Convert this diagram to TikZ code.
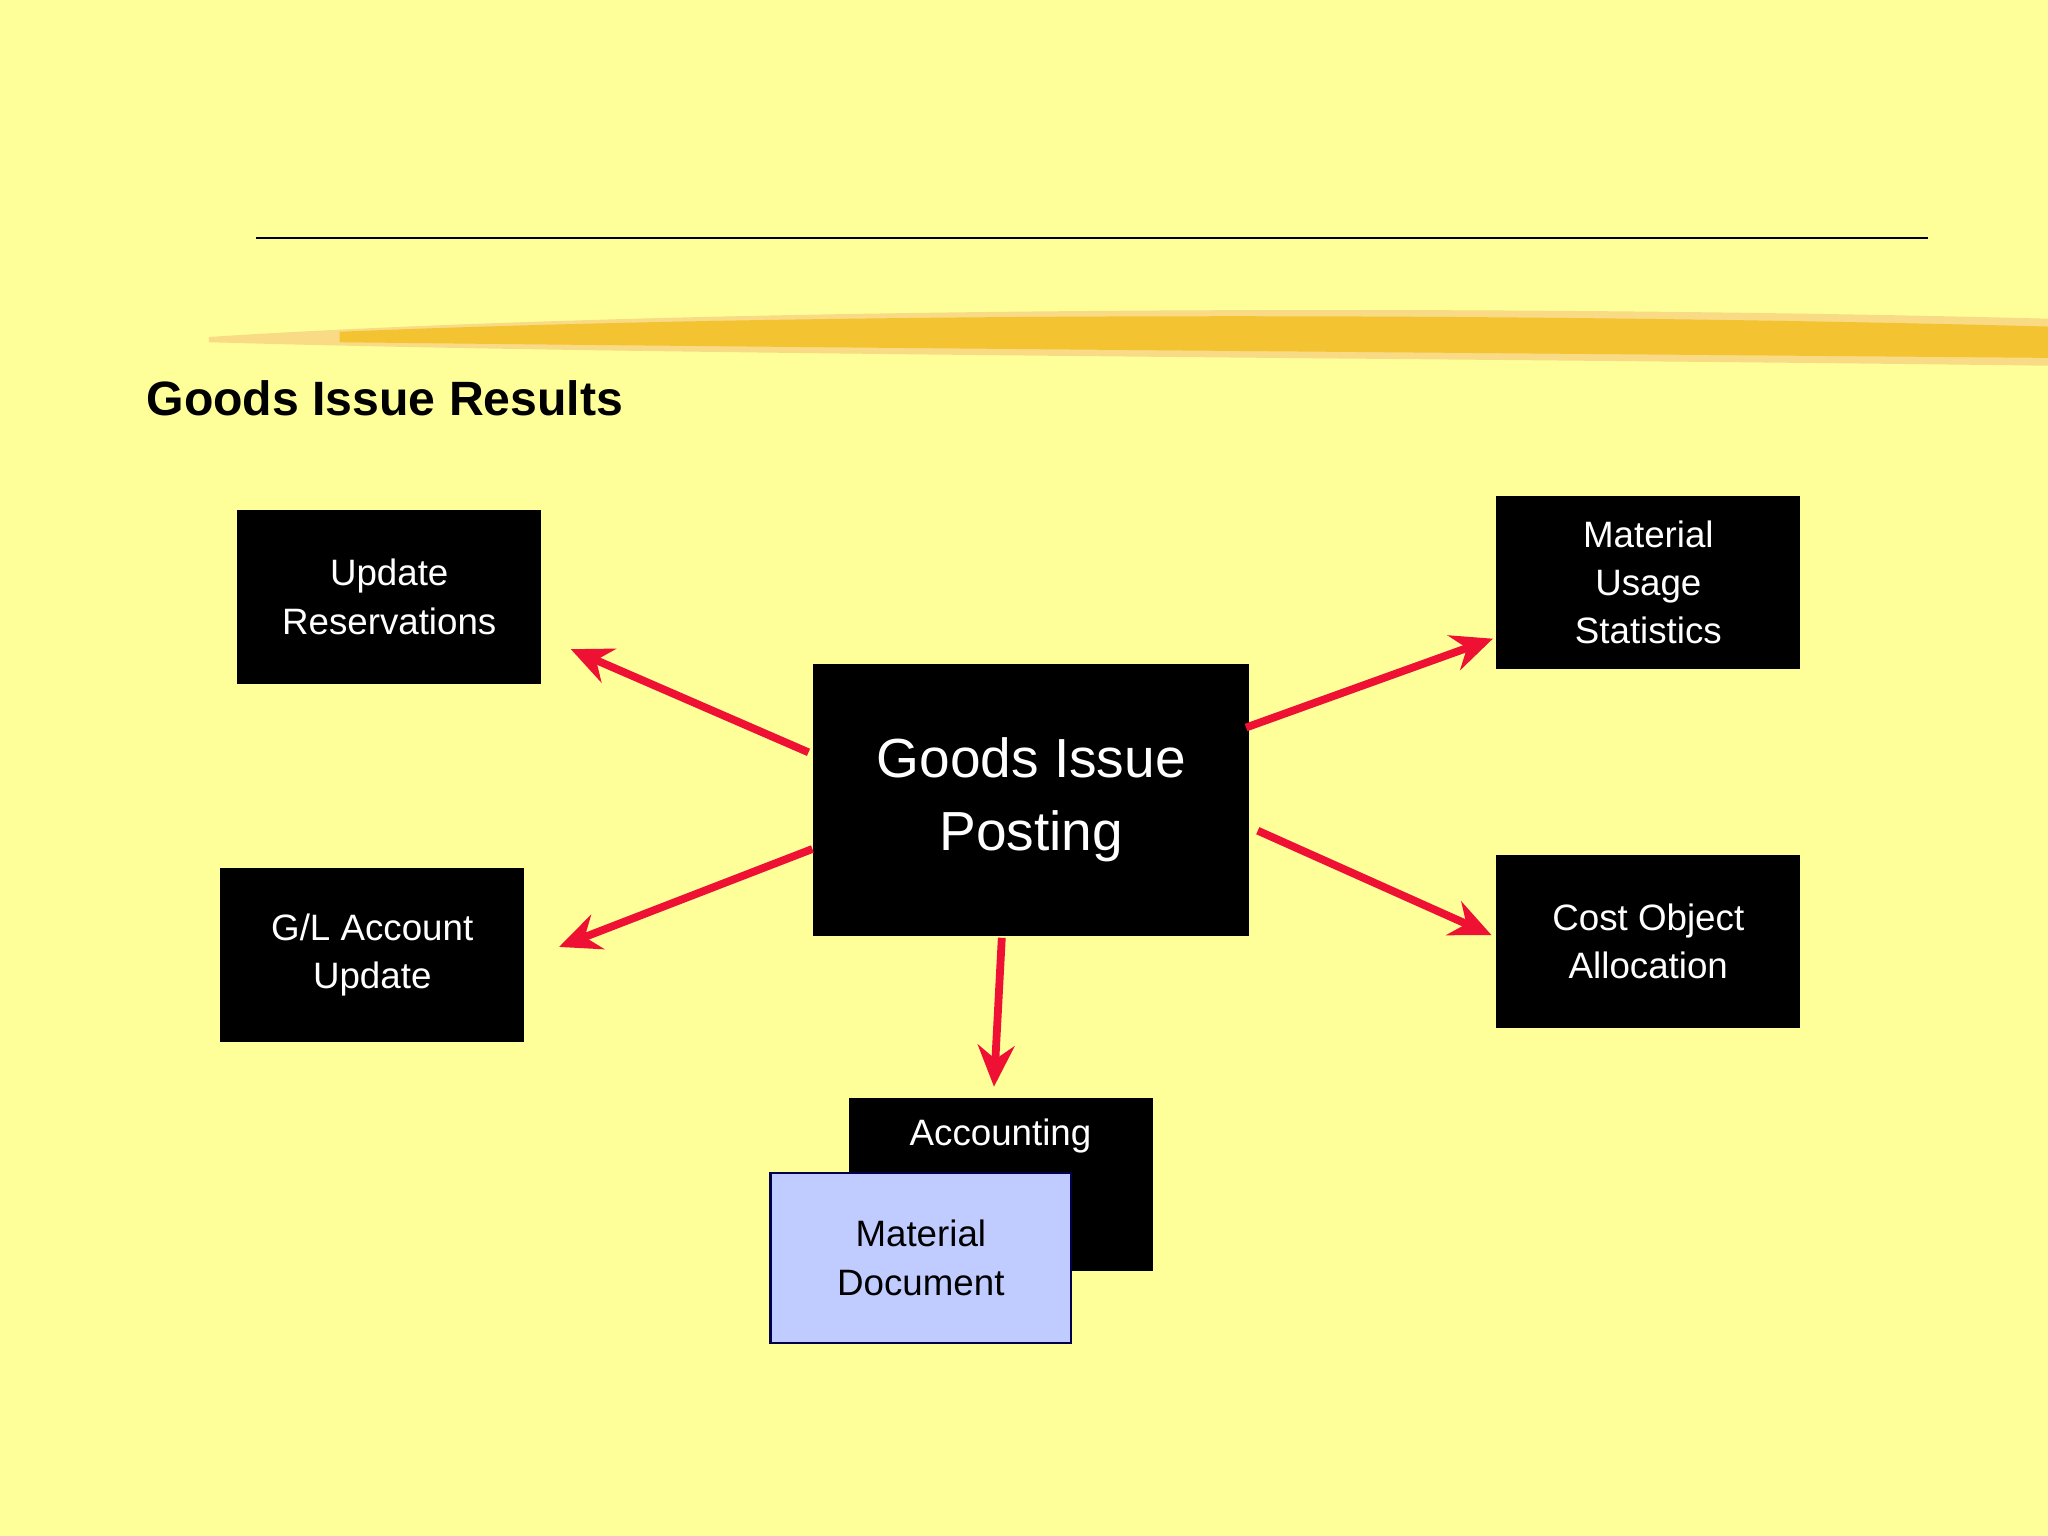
\documentclass[tikz,border=0pt]{standalone}
\usepackage{fontspec}
\setmainfont{Liberation Sans}
\usetikzlibrary{arrows.meta}
\definecolor{bg}{HTML}{FFFF99}
\definecolor{brush}{HTML}{F3C332}
\definecolor{arr}{HTML}{EE1133}
\definecolor{doc}{HTML}{C0CCFF}
\begin{document}
\begin{tikzpicture}[x=0.02cm,y=-0.02cm,
  box/.style={fill=black,draw=black,text=white,align=center,font=\fontsize{16}{21}\selectfont},
  ar/.style={draw=arr,line width=3.4pt,-{Stealth[length=18pt,width=16pt,inset=6pt]}}]
\fill[bg] (0,0) rectangle (1568,1176);
\useasboundingbox (0,0) rectangle (1568,1176);
\draw[line width=1pt] (196,182) -- (1476,182);
\fill[brush!60] (160,258) .. controls (500,236) and (1100,232) .. (1568,244) -- (1568,280) .. controls (1100,274) and (500,272) .. (160,262) -- cycle;
\fill[brush] (260,254) .. controls (600,240) and (1100,238) .. (1568,250) -- (1568,274) .. controls (1100,270) and (600,266) .. (260,262) -- cycle;
\node[anchor=west,font=\bfseries\fontsize{21}{25}\selectfont] (title) at (106,305) {Goods Issue Results};
\node[box,minimum width=232*0.02cm,minimum height=132*0.02cm] (ur) at (298,457) {Update\\Reservations};
\node[box,minimum width=232*0.02cm,minimum height=132*0.02cm] (mu) at (1262,446) {Material\\Usage\\Statistics};
\node[box,minimum width=333*0.02cm,minimum height=207*0.02cm,font=\fontsize{24}{32}\selectfont] (gi) at (789.5,612.5) {Goods Issue\\Posting};
\node[box,minimum width=232*0.02cm,minimum height=132*0.02cm] (gl) at (285,731) {G/L Account\\Update};
\node[box,minimum width=232*0.02cm,minimum height=132*0.02cm] (co) at (1262,721) {Cost Object\\Allocation};
\node[box,minimum width=232*0.02cm,minimum height=132*0.02cm] (ac) at (766,907) {};
\node[text=white,font=\fontsize{16}{21}\selectfont] (actext) at (766,870) {Accounting};
\node[fill=doc,draw=black!70!blue,line width=1pt,align=center,font=\fontsize{16}{21}\selectfont,minimum width=230*0.02cm,minimum height=130*0.02cm] (md) at (705,963) {Material\\Document};
\coordinate (e1) at (437,497);
\coordinate (e2) at (1143,489);
\coordinate (e3) at (428,725);
\coordinate (e4) at (1142,716);
\coordinate (e5) at (761,832);
\coordinate (s1) at (619,576);
\coordinate (s2) at (954,557);
\coordinate (s3) at (622,650);
\coordinate (s4) at (963,636);
\coordinate (s5) at (767,718);
\draw[ar] (s1) -- (e1);
\draw[ar] (s2) -- (e2);
\draw[ar] (s3) -- (e3);
\draw[ar] (s4) -- (e4);
\draw[ar] (s5) -- (e5);
\end{tikzpicture}
\end{document}
